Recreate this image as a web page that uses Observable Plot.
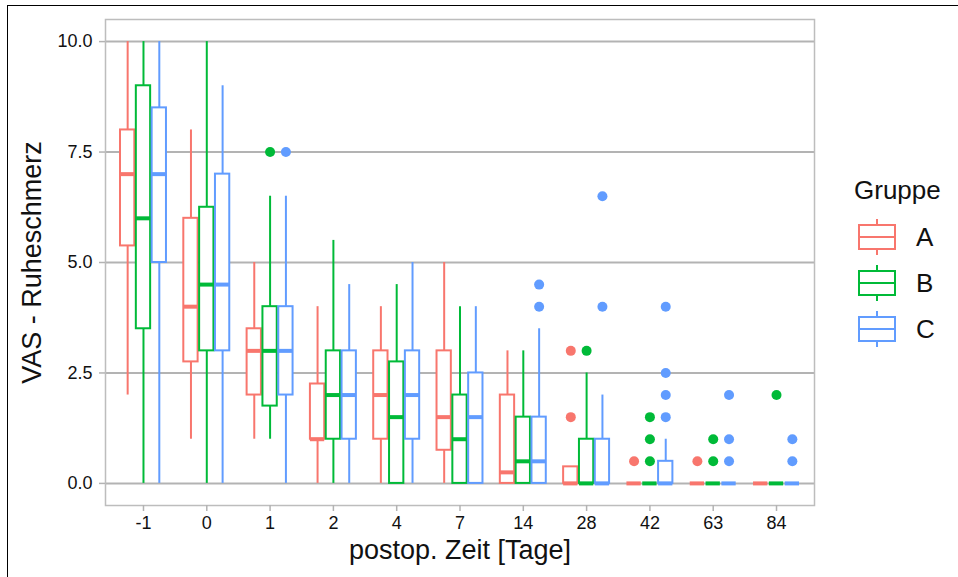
<!DOCTYPE html>
<html>
<head>
<meta charset="utf-8">
<script src="https://cdn.jsdelivr.net/npm/d3@7"></script>
<script src="https://cdn.jsdelivr.net/npm/@observablehq/plot@0.6"></script>
<style>
  html, body { margin: 0; padding: 0; background: #fff; }
  #wrap { position: relative; width: 958px; height: 577px; overflow: hidden; font-family: "Liberation Sans", Arial, sans-serif; }
  #border { position: absolute; left: 7px; top: 5px; right: -4px; bottom: -4px; border-left: 1.5px solid #000; border-top: 1.5px solid #000; }
  #chart { position: absolute; left: 0; top: 0; }
  #legend { position: absolute; left: 854px; top: 172px; color: #111; }
  #legend .title { font-size: 26px; margin-left: 0px; height: 42px; line-height: 36px; }
  #legend .row { display: flex; align-items: center; height: 46px; }
  #legend .row svg { margin-left: 3px; }
  #legend .row span { font-size: 26px; margin-left: 19px; }
</style>
</head>
<body>
<div id="wrap">
  <div id="border"></div>
  <div id="chart"></div>
  <div id="legend"></div>
</div>
<script>
// Categories (postoperative day) and groups
const days = ["-1", "0", "1", "2", "4", "7", "14", "28", "42", "63", "84"];
const groups = ["A", "B", "C"];
const colors = ["#F8766D", "#00BA38", "#619CFF"];

// Box statistics per group, in the order of days
const A_lo  = [2, 1, 1, 0, 0, 0, 0, 0, 0, 0, 0];
const A_q1  = [5.375, 2.75, 2, 1, 1, 0.75, 0, 0, 0, 0, 0];
const A_med = [7, 4, 3, 1, 2, 1.5, 0.25, 0, 0, 0, 0];
const A_q3  = [8, 6, 3.5, 2.25, 3, 3, 2, 0.375, 0, 0, 0];
const A_hi  = [10, 8, 5, 4, 4, 5, 3, 0.375, 0, 0, 0];

const B_lo  = [0, 0, 1, 0, 0, 0, 0, 0, 0, 0, 0];
const B_q1  = [3.5, 3, 1.75, 1, 0, 0, 0, 0, 0, 0, 0];
const B_med = [6, 4.5, 3, 2, 1.5, 1, 0.5, 0, 0, 0, 0];
const B_q3  = [9, 6.25, 4, 3, 2.75, 2, 1.5, 1, 0, 0, 0];
const B_hi  = [10, 10, 6.5, 5.5, 4.5, 4, 3, 2.5, 0, 0, 0];

const C_lo  = [0, 0, 0, 0, 0, 0, 0, 0, 0, 0, 0];
const C_q1  = [5, 3, 2, 1, 1, 0, 0, 0, 0, 0, 0];
const C_med = [7, 4.5, 3, 2, 2, 1.5, 0.5, 0, 0, 0, 0];
const C_q3  = [8.5, 7, 4, 3, 3, 2.5, 1.5, 1, 0.5, 0, 0];
const C_hi  = [10, 9, 6.5, 4.5, 5, 4, 3.5, 2, 1, 0, 0];

// Outliers: [day, value]
const A_out = [["28", 3], ["28", 1.5], ["42", 0.5], ["63", 0.5]];
const B_out = [["1", 7.5], ["28", 3], ["42", 1.5], ["42", 1], ["42", 0.5], ["63", 1], ["63", 0.5], ["84", 2]];
const C_out = [["1", 7.5], ["14", 4.5], ["14", 4], ["28", 6.5], ["28", 4], ["42", 4], ["42", 2.5], ["42", 2], ["42", 1.5], ["63", 2], ["63", 1], ["63", 0.5], ["84", 1], ["84", 0.5]];

const yTicks = [0, 2.5, 5, 7.5, 10];

// Build tables
const stats = {
  A: [A_lo, A_q1, A_med, A_q3, A_hi],
  B: [B_lo, B_q1, B_med, B_q3, B_hi],
  C: [C_lo, C_q1, C_med, C_q3, C_hi]
};
const outs = { A: A_out, B: B_out, C: C_out };
const dodge = 0.25, half = 0.113;
const boxes = [];
const outliers = [];
groups.forEach((g, gi) => {
  const [lo, q1, med, q3, hi] = stats[g];
  days.forEach((d, i) => {
    boxes.push({ day: d, group: g, x: i + (gi - 1) * dodge, lo: lo[i], q1: q1[i], med: med[i], q3: q3[i], hi: hi[i] });
  });
  outs[g].forEach(([d, v]) => {
    outliers.push({ day: d, group: g, x: days.indexOf(d) + (gi - 1) * dodge, y: v });
  });
});

const font = "'Liberation Sans', Arial, sans-serif";
const chart = Plot.plot({
  width: 830,
  height: 577,
  marginLeft: 105,
  marginRight: 16,
  marginTop: 19,
  marginBottom: 72,
  style: { fontFamily: font, background: "transparent", color: "#111" },
  x: { type: "linear", domain: [-0.6, days.length - 1 + 0.6] },
  y: { domain: [-0.5, 10.5] },
  color: { domain: groups, range: colors },
  marks: [
    Plot.gridY(yTicks, { stroke: "#b3b3b3", strokeOpacity: 1, strokeWidth: 2 }),
    Plot.frame({ stroke: "#bdbdbd", strokeWidth: 1.5 }),
    Plot.ruleX(boxes.filter(d => d.hi > d.q3), { x: "x", y1: "q3", y2: "hi", stroke: "group", strokeWidth: 2 }),
    Plot.ruleX(boxes.filter(d => d.q1 > d.lo), { x: "x", y1: "lo", y2: "q1", stroke: "group", strokeWidth: 2 }),
    Plot.rect(boxes, { x1: d => d.x - half, x2: d => d.x + half, y1: "q1", y2: "q3", fill: "white", stroke: "group", strokeWidth: 2 }),
    Plot.ruleY(boxes, { y: "med", x1: d => d.x - half, x2: d => d.x + half, stroke: "group", strokeWidth: 4 }),
    Plot.dot(outliers, { x: "x", y: "y", fill: "group", r: 5 }),
    Plot.axisY({ ticks: yTicks, tickFormat: d3.format(".1f"), tickSize: 6, tickPadding: 7, fontSize: 18, stroke: "#b3b3b3", strokeWidth: 1.5, fill: "#111", label: null }),
    Plot.axisX({ ticks: d3.range(days.length), tickFormat: i => days[i], tickSize: 6, tickPadding: 5, fontSize: 18, stroke: "#b3b3b3", strokeWidth: 1.5, fill: "#111", label: null }),
    Plot.text(["postop. Zeit [Tage]"], { text: d => d, frameAnchor: "bottom", textAnchor: "middle", dy: 53, fontSize: 27, fill: "#111" }),
    Plot.text(["VAS - Ruheschmerz"], { text: d => d, frameAnchor: "left", textAnchor: "middle", dx: -73, rotate: -90, fontSize: 27, fill: "#111" })
  ]
});
document.getElementById("chart").appendChild(chart);

// Legend (HTML, beside the plot)
const legend = document.getElementById("legend");
const t = document.createElement("div");
t.className = "title";
t.textContent = "Gruppe";
legend.appendChild(t);
groups.forEach((g, gi) => {
  const row = document.createElement("div");
  row.className = "row";
  const c = colors[gi];
  row.innerHTML = `<svg width="40" height="40" viewBox="0 0 40 40">
    <line x1="20" x2="20" y1="2" y2="8" stroke="${c}" stroke-width="2"/>
    <line x1="20" x2="20" y1="32" y2="38" stroke="${c}" stroke-width="2"/>
    <rect x="2" y="8" width="36" height="24" fill="white" stroke="${c}" stroke-width="2"/>
    <line x1="2" x2="38" y1="20" y2="20" stroke="${c}" stroke-width="2"/>
  </svg><span>${g}</span>`;
  legend.appendChild(row);
});
</script>
</body>
</html>
